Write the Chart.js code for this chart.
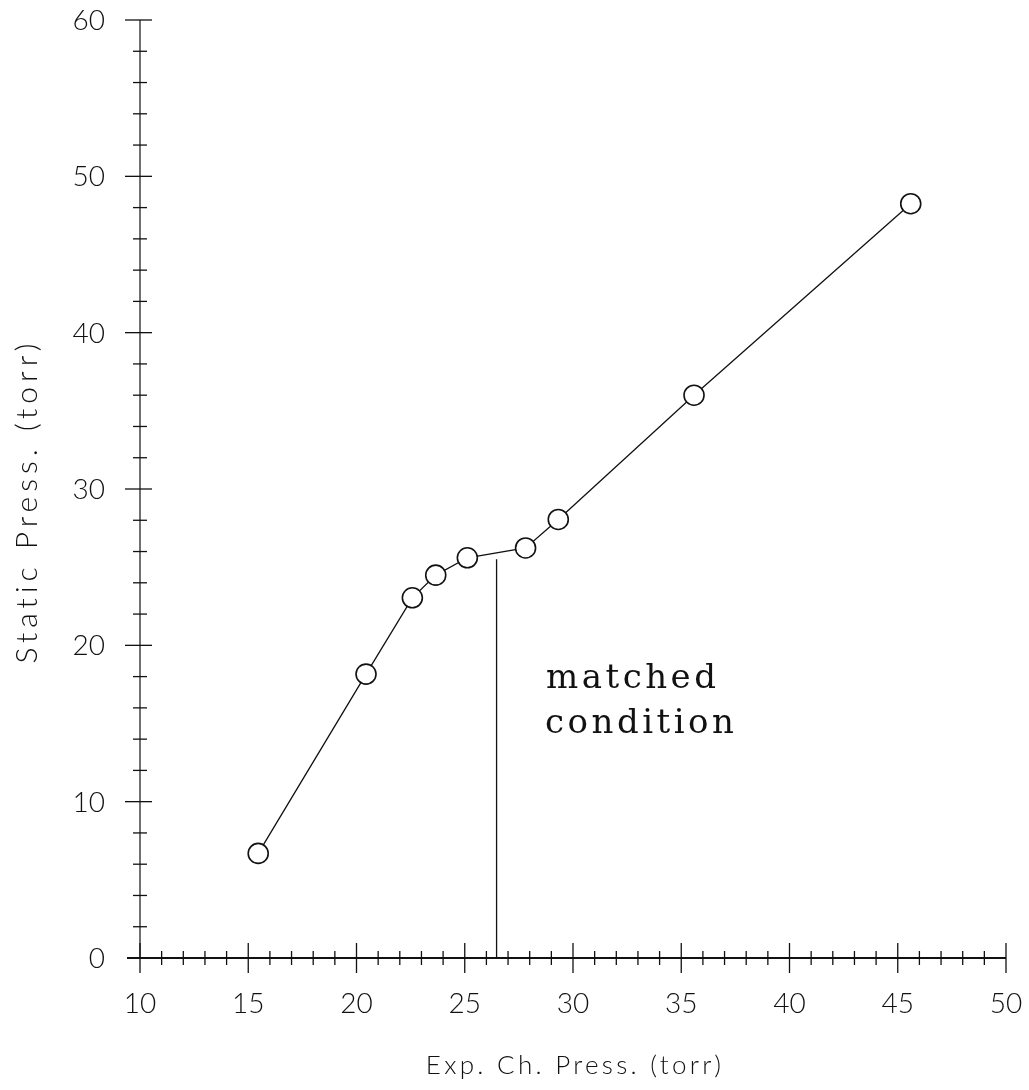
<!DOCTYPE html>
<html><head><meta charset="utf-8">
<script src="https://cdn.jsdelivr.net/npm/chart.js@4"></script>
<style>html,body{margin:0;padding:0;background:#fff}#wrap{width:1029px;height:1090px}</style>
</head><body><div id="wrap"><canvas id="c" width="1029" height="1090"></canvas></div>
<script>
// ---- data ----
const expChPress  = [15.46, 20.44, 22.58, 23.66, 25.12, 27.81, 29.32, 35.59, 45.6];
const staticPress = [6.69, 18.16, 23.04, 24.49, 25.6, 26.23, 28.05, 36.0, 48.25];
const matchedX = [26.47, 26.47];
const matchedY = [0, 25.5];
const xTickValues = [10, 15, 20, 25, 30, 35, 40, 45, 50];
const yTickValues = [0, 10, 20, 30, 40, 50, 60];
const xMinorStep = 1;
const yMinorStep = 2;
const xTitle = 'Exp. Ch. Press. (torr)';
const yTitle = 'Static Press. (torr)';
const noteLines = ['matched', 'condition'];

const FONT = '"Lato", "Open Sans", "DejaVu Sans", sans-serif';

const toPts = (xs, ys) => xs.map((x, i) => ({x: x, y: ys[i]}));

const axesPlugin = {
  id: 'axesPlugin',
  beforeDatasetsDraw(chart) {
    const ctx = chart.ctx, xs = chart.scales.x, ys = chart.scales.y;
    const x0 = xs.getPixelForValue(xs.min), y0 = ys.getPixelForValue(ys.min);
    ctx.save();
    ctx.strokeStyle = '#111';
    // x axis line
    ctx.lineWidth = 2;
    ctx.beginPath(); ctx.moveTo(x0 - 13, y0); ctx.lineTo(xs.getPixelForValue(xs.max), y0); ctx.stroke();
    // y axis line
    ctx.lineWidth = 1.2;
    ctx.beginPath(); ctx.moveTo(x0, y0); ctx.lineTo(x0, ys.getPixelForValue(ys.max)); ctx.stroke();
    // x ticks
    ctx.lineWidth = 1.3;
    for (let v = xs.min; v <= xs.max + 1e-9; v += xMinorStep) {
      const major = xTickValues.includes(Math.round(v));
      const p = xs.getPixelForValue(v), h = major ? 15 : 7;
      ctx.beginPath(); ctx.moveTo(p, y0 - h); ctx.lineTo(p, y0 + h); ctx.stroke();
    }
    // y ticks
    for (let v = ys.min + yMinorStep; v <= ys.max + 1e-9; v += yMinorStep) {
      const major = yTickValues.includes(Math.round(v));
      const p = ys.getPixelForValue(v);
      const l = major ? 15 : 7, r = major ? 12 : 7;
      ctx.beginPath(); ctx.moveTo(x0 - l, p); ctx.lineTo(x0 + r, p); ctx.stroke();
    }
    // tick labels
    ctx.fillStyle = '#111';
    ctx.font = '300 28px ' + FONT;
    ctx.textAlign = 'center'; ctx.textBaseline = 'middle';
    xTickValues.forEach(v => ctx.fillText(String(v), xs.getPixelForValue(v), 1004));
    ctx.textAlign = 'right';
    yTickValues.forEach(v => ctx.fillText(String(v), 105, ys.getPixelForValue(v) + 1));
    ctx.restore();
  },
  afterDraw(chart) {
    const ctx = chart.ctx, ca = chart.chartArea;
    ctx.save();
    ctx.fillStyle = '#111';
    // x title
    ctx.font = '300 26px ' + FONT;
    ctx.textAlign = 'center'; ctx.textBaseline = 'alphabetic';
    ctx.letterSpacing = '3.3px';
    ctx.fillText(xTitle, (ca.left + ca.right) / 2 + 2, 1074);
    // y title
    ctx.translate(37, 503);
    ctx.rotate(-Math.PI / 2);
    ctx.font = '300 30px ' + FONT;
    ctx.letterSpacing = '5px';
    ctx.fillText(yTitle, 2, 0);
    ctx.restore();
    // note
    ctx.save();
    ctx.fillStyle = '#111';
    ctx.font = '34px "DejaVu Serif", "Liberation Serif", serif';
    ctx.textAlign = 'left'; ctx.textBaseline = 'alphabetic';
    ctx.letterSpacing = '3.5px';
    ctx.fillText(noteLines[0], 546, 688);
    ctx.fillText(noteLines[1], 545, 733);
    ctx.restore();
  }
};

new Chart(document.getElementById('c'), {
  type: 'scatter',
  data: {
    datasets: [
      {
        data: toPts(matchedX, matchedY),
        showLine: true, borderColor: '#111', borderWidth: 1.3,
        pointRadius: 0, order: 2
      },
      {
        data: toPts(expChPress, staticPress),
        showLine: true, borderColor: '#111', borderWidth: 1.3,
        pointRadius: 10, pointBorderWidth: 1.6,
        pointBackgroundColor: '#fff', pointBorderColor: '#111', order: 1
      }
    ]
  },
  options: {
    responsive: false, animation: false, devicePixelRatio: 1,
    layout: {padding: {left: 0, top: 20, right: 23, bottom: 0}},
    plugins: {legend: {display: false}, tooltip: {enabled: false}},
    scales: {
      x: {
        type: 'linear', min: 10, max: 50,
        afterBuildTicks: s => { s.ticks = xTickValues.map(v => ({value: v})); },
        afterFit: s => { s.height = 132; },
        grid: {display: false, drawTicks: false}, border: {display: false},
        ticks: {display: false}
      },
      y: {
        type: 'linear', min: 0, max: 60,
        afterBuildTicks: s => { s.ticks = yTickValues.map(v => ({value: v})); },
        afterFit: s => { s.width = 140; },
        grid: {display: false, drawTicks: false}, border: {display: false},
        ticks: {display: false}
      }
    }
  },
  plugins: [axesPlugin]
});
</script>
</body></html>
